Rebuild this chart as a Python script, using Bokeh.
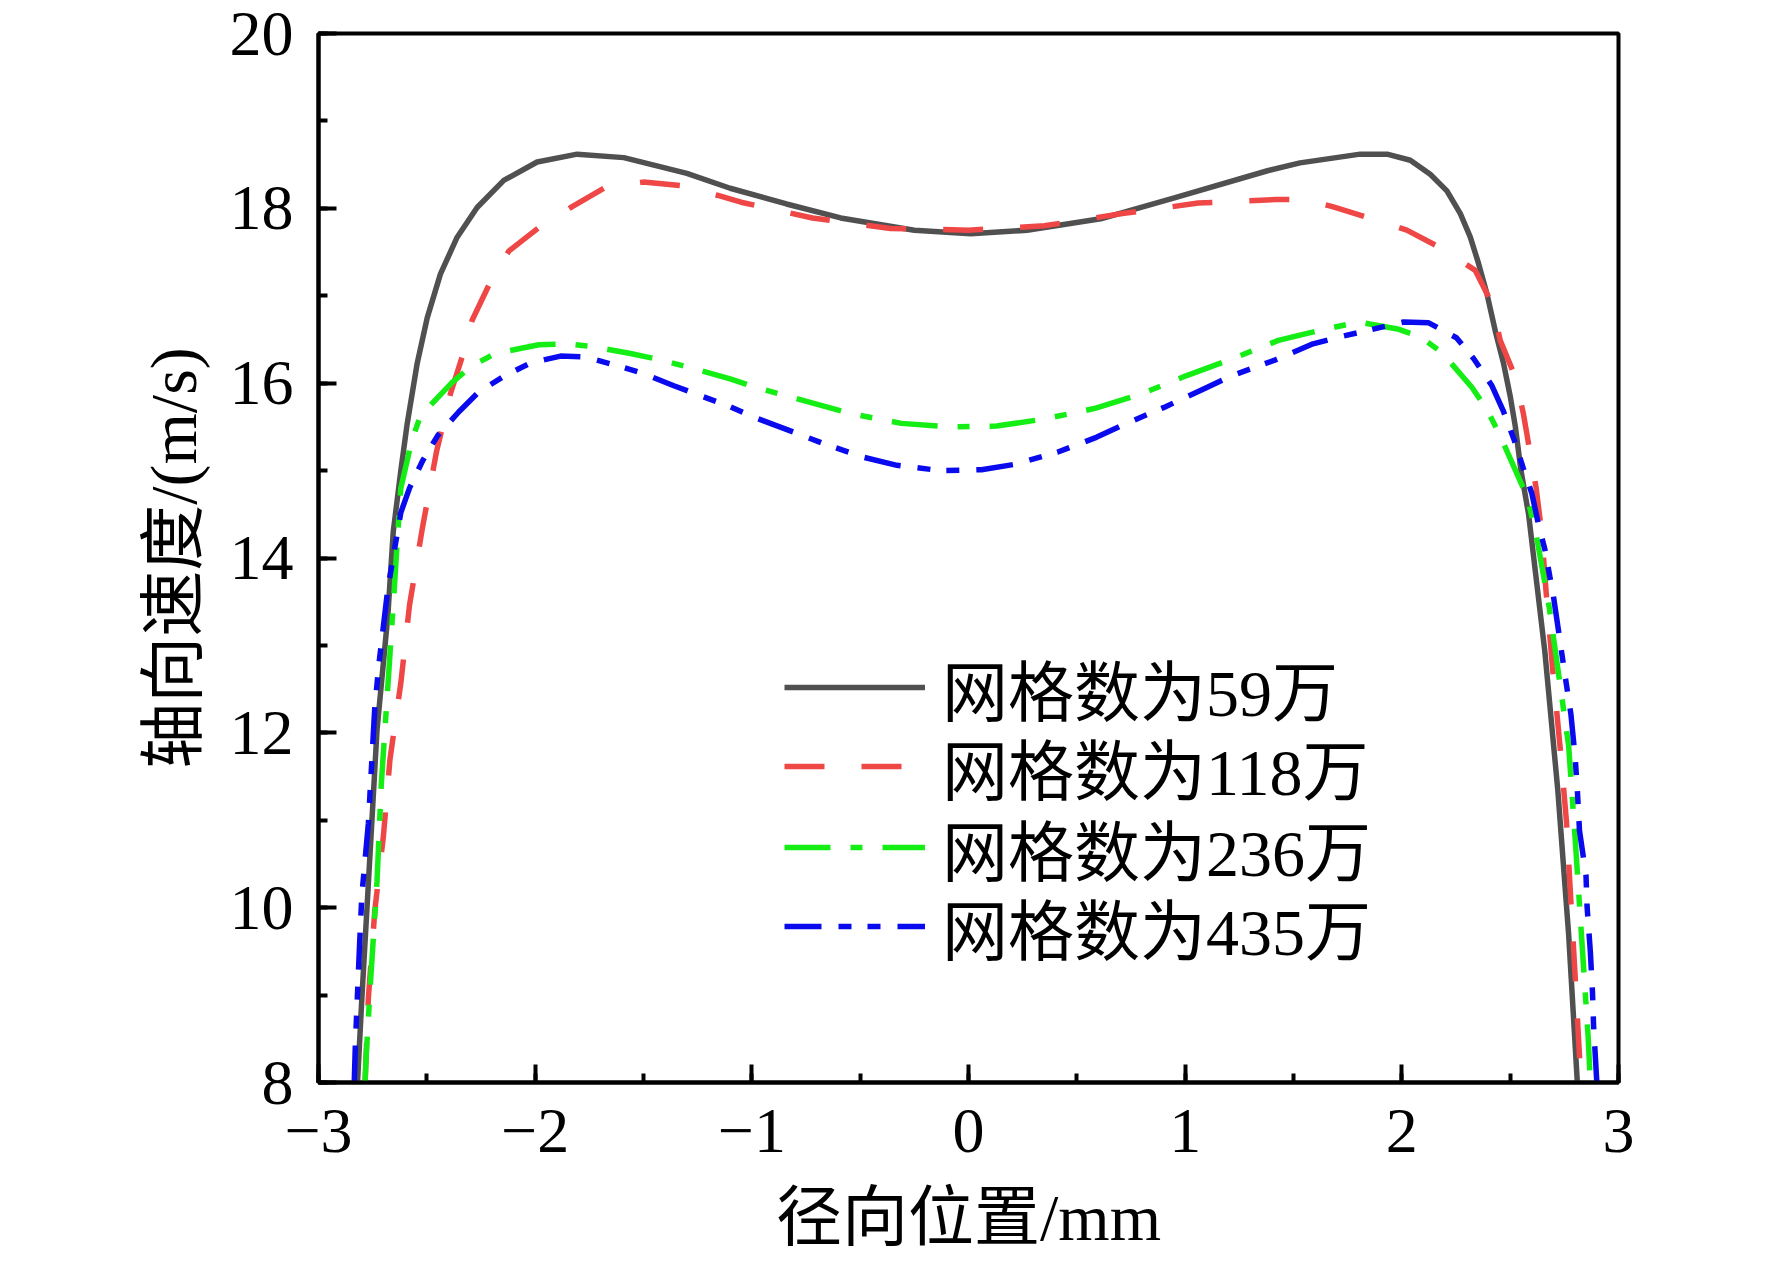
from bokeh.plotting import figure
from bokeh.models import Range1d, SingleIntervalTicker, Legend, LegendItem
from bokeh.embed import file_html
from bokeh.resources import INLINE

# ---------------- data ----------------
x_59 = [-2.82, -2.80, -2.77, -2.73, -2.68, -2.655, -2.62, -2.591, -2.545, -2.498, -2.437,
        -2.36, -2.268, -2.145, -1.991, -1.806, -1.591, -1.30, -1.10, -0.84, -0.59, -0.25,
        0.01, 0.27, 0.61, 0.95, 1.38, 1.53, 1.808, 1.932, 2.039, 2.131, 2.208, 2.27,
        2.316, 2.354, 2.393, 2.431, 2.47, 2.501, 2.524, 2.55, 2.585, 2.66, 2.72, 2.77, 2.81]
y_59 = [8.0, 8.96, 10.27, 12.03, 13.34, 14.3, 15.0, 15.53, 16.22, 16.75, 17.25,
        17.67, 18.01, 18.32, 18.53, 18.62, 18.58, 18.40, 18.23, 18.05, 17.89, 17.75,
        17.71, 17.75, 17.88, 18.12, 18.43, 18.52, 18.62, 18.62, 18.55, 18.39, 18.20, 17.94,
        17.67, 17.37, 17.02, 16.60, 16.22, 15.84, 15.50, 15.0, 14.5, 12.93, 11.34, 9.69, 8.0]

x_118 = [-2.785, -2.77, -2.74, -2.70, -2.67, -2.62, -2.58, -2.52, -2.455, -2.391, -2.337,
         -2.291, -2.214, -2.122, -1.983, -1.829, -1.676, -1.50, -1.33, -1.16, -1.05, -0.72,
         -0.36, 0.0, 0.35, 0.71, 1.06, 1.42, 1.55, 1.68, 1.85, 2.023, 2.185, 2.339, 2.416,
         2.454, 2.524, 2.561, 2.593, 2.62, 2.645, 2.665, 2.695, 2.73, 2.76, 2.78, 2.80,
         2.82, 2.825]
y_118 = [8.0, 8.96, 9.97, 10.83, 11.7, 12.57, 13.46, 14.35, 15.22, 15.88, 16.30,
         16.72, 17.12, 17.51, 17.78, 18.02, 18.24, 18.30, 18.26, 18.15, 18.07, 17.89,
         17.77, 17.75, 17.80, 17.94, 18.06, 18.10, 18.10, 18.02, 17.89, 17.75, 17.54, 17.29, 16.91,
         16.49, 16.07, 15.65, 15.19, 14.8, 14.3, 13.64, 12.76, 11.85, 10.98, 10.08, 9.21,
         8.3, 8.0]

x_236 = [-2.785, -2.78, -2.76, -2.73, -2.71, -2.68, -2.65, -2.635, -2.62, -2.57, -2.529,
         -2.383, -2.291, -2.183, -1.983, -1.86, -1.737, -1.56, -1.41, -1.29, -1.10, -0.98,
         -0.76, -0.54, -0.31, -0.09, 0.13, 0.35, 0.58, 0.80, 1.01, 1.22, 1.43, 1.53,
         1.65, 1.80, 1.98, 2.085, 2.185, 2.324, 2.39, 2.45, 2.53, 2.58, 2.625, 2.68,
         2.77, 2.80, 2.83, 2.86, 2.87]
y_236 = [8.0, 8.3, 9.15, 10.3, 11.42, 12.53, 13.66, 14.25, 14.8, 15.34, 15.63,
         16.01, 16.20, 16.34, 16.44, 16.45, 16.42, 16.34, 16.26, 16.18, 16.05, 15.95,
         15.80, 15.65, 15.54, 15.50, 15.51, 15.59, 15.71, 15.88, 16.09, 16.28, 16.49, 16.55,
         16.62, 16.70, 16.62, 16.53, 16.35, 15.95, 15.71, 15.42, 14.97, 14.69, 14.2, 13.44,
         11.85, 10.79, 9.65, 8.52, 8.0]

x_435 = [-2.835, -2.83, -2.81, -2.80, -2.77, -2.74, -2.72, -2.68, -2.62, -2.58, -2.52,
         -2.45, -2.353, -2.26, -2.137, -2.022, -1.883, -1.768, -1.606, -1.50, -1.36, -1.24,
         -1.10, -0.99, -0.85, -0.67, -0.48, -0.33, -0.13, 0.06, 0.21, 0.41, 0.59, 0.72,
         0.90, 1.09, 1.22, 1.41, 1.59, 1.73, 1.855, 2.009, 2.124, 2.252, 2.332, 2.416, 2.467,
         2.52, 2.56, 2.60, 2.63, 2.66, 2.70, 2.73, 2.75, 2.78, 2.80, 2.81, 2.82, 2.85,
         2.855, 2.87, 2.88, 2.885, 2.90]
y_435 = [8.0, 8.43, 9.6, 10.14, 10.96, 12.3, 12.81, 13.65, 14.52, 14.8, 15.11,
         15.4, 15.67, 15.90, 16.09, 16.23, 16.31, 16.30, 16.19, 16.11, 15.97, 15.86,
         15.73, 15.61, 15.48, 15.31, 15.15, 15.06, 15.0, 15.01, 15.07, 15.21, 15.38, 15.53,
         15.72, 15.94, 16.09, 16.26, 16.45, 16.54, 16.61, 16.70, 16.69, 16.52, 16.28, 15.97, 15.69,
         15.34, 15.03, 14.74, 14.39, 14.1, 13.56, 13.05, 12.71, 12.22, 11.72, 11.35, 10.88, 10.37,
         10.01, 9.5, 9.03, 8.65, 8.0]

series_labels = ["网格数为59万", "网格数为118万", "网格数为236万", "网格数为435万"]
x_ticks = [-3, -2, -1, 0, 1, 2, 3]
x_tick_labels = ["\u22123", "\u22122", "\u22121", "0", "1", "2", "3"]
y_ticks = [8, 10, 12, 14, 16, 18, 20]
y_tick_labels = ["8", "10", "12", "14", "16", "18", "20"]
x_title = "径向位置/mm"
y_title = "轴向速度/(m/s)"

# ---------------- figure ----------------
FONT = "Liberation Serif, Noto Sans CJK SC"

p = figure(width=1772, height=1261, x_range=Range1d(-3, 3), y_range=Range1d(8, 20),
           output_backend="svg", toolbar_location=None,
           min_border_left=318, min_border_right=154, min_border_top=33, min_border_bottom=179)
p.background_fill_color = "white"
p.border_fill_color = "white"
p.xgrid.visible = False
p.ygrid.visible = False
p.outline_line_color = "black"
p.outline_line_width = 4
p.outline_line_alpha = 1

for ax in (p.xaxis[0], p.yaxis[0]):
    ax.axis_line_width = 4
    ax.axis_line_color = "black"
    ax.major_tick_in = 18
    ax.major_tick_out = 0
    ax.minor_tick_in = 9
    ax.minor_tick_out = 0
    ax.major_tick_line_width = 4
    ax.minor_tick_line_width = 4
    ax.major_tick_line_color = "black"
    ax.minor_tick_line_color = "black"
    ax.major_label_text_font = FONT
    ax.major_label_text_font_size = "64px"
    ax.major_label_text_color = "black"
    ax.axis_label_text_font = FONT
    ax.axis_label_text_font_size = "66px"
    ax.axis_label_text_font_style = "normal"
    ax.axis_label_text_color = "black"

p.xaxis.ticker = SingleIntervalTicker(interval=1, num_minor_ticks=2)
p.yaxis.ticker = SingleIntervalTicker(interval=2, num_minor_ticks=2)
p.xaxis.major_label_overrides = dict(zip(x_ticks, x_tick_labels))
p.yaxis.major_label_overrides = dict(zip(y_ticks, y_tick_labels))
p.xaxis.major_label_standoff = 27
p.yaxis.major_label_standoff = 25
p.xaxis.axis_label = x_title
p.yaxis.axis_label = y_title
p.xaxis.axis_label_standoff = 26
p.yaxis.axis_label_standoff = 17

LW = 5.5
r1 = p.line(x_59, y_59, line_color="#505050", line_width=LW)
r2 = p.line(x_118, y_118, line_color="#ef4646", line_width=LW, line_dash="40 37")
r3 = p.line(x_236, y_236, line_color="#14ee14", line_width=LW, line_dash="46 20 12 20")
r4 = p.line(x_435, y_435, line_color="#0a0aee", line_width=LW, line_dash="37 17 13 16 13 17")

# one legend per row so that the row pitch matches the reference
row_offsets = [347, 268, 187, 108]
for lab, r, vy in zip(series_labels, [r1, r2, r3, r4], row_offsets):
    lg = Legend(items=[LegendItem(label=lab, renderers=[r])], location=(466, vy),
                glyph_width=141, glyph_height=96, label_height=96, spacing=0,
                padding=0, margin=0, label_standoff=17,
                border_line_color=None, background_fill_alpha=0,
                label_text_font=FONT, label_text_font_size="66px", label_text_color="black")
    p.add_layout(lg)

open("out.html", "w").write(file_html(p, INLINE))
